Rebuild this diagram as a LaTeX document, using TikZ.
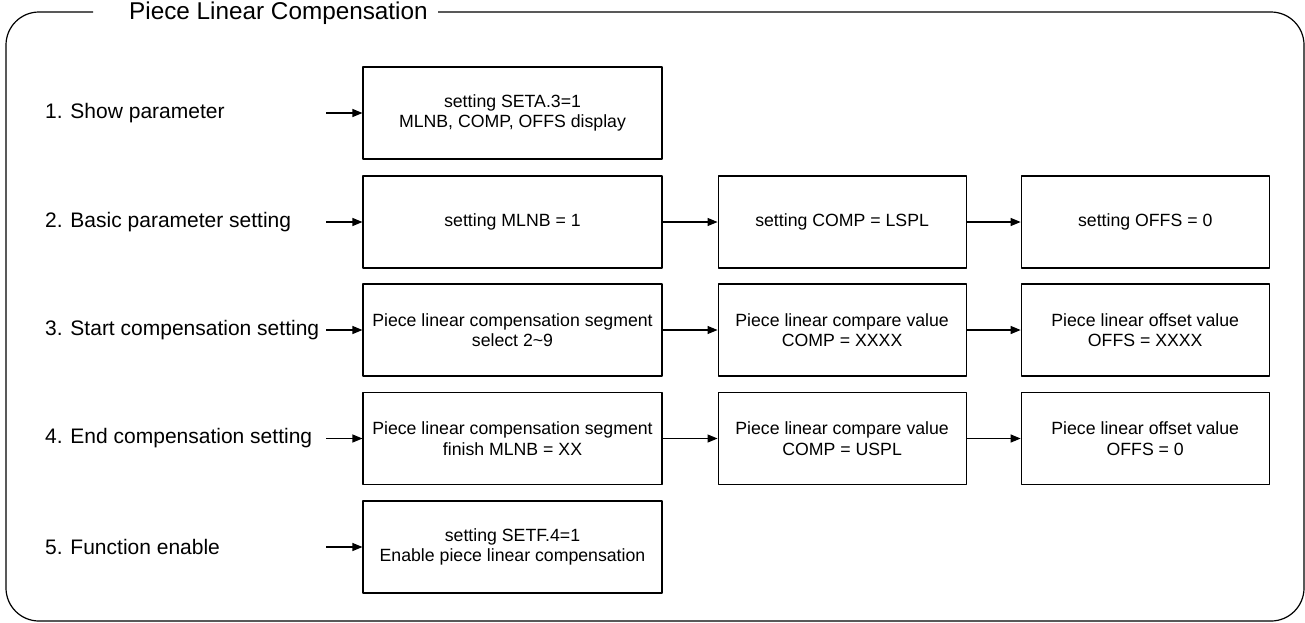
\documentclass[tikz,border=0pt]{standalone}
\usepackage{fontspec}
\setmainfont{Liberation Sans}
\usetikzlibrary{arrows.meta,positioning}

\begin{document}
\begin{tikzpicture}[x=1pt,y=-1pt,>={Triangle[length=10pt,width=8pt]},line join=round,
  stepbox/.style={draw,line width=1.1pt,minimum height=92pt,align=center,
    font=\fontsize{17.7}{20.5}\selectfont,inner sep=0pt},
  widebox/.style={stepbox,minimum width=299pt},
  narrowbox/.style={stepbox,minimum width=248pt},
  rowlabel/.style={anchor=west,font=\fontsize{21}{24}\selectfont,inner sep=0pt},
  link/.style={->,line width=1.1pt}]
\useasboundingbox (0,0) rectangle (1305,622);

%% ---------------- outer frame with the title in its top edge ----------------
\draw[line width=1.2pt,rounded corners=33pt]
  (93,12) -- (6,12) -- (6,621) -- (1304,621) -- (1304,12) -- (438,12);
\node[anchor=west,font=\fontsize{24.3}{28}\selectfont,inner sep=0pt] (title) at (129,13) {Piece Linear Compensation};

%% ---------------- first column ----------------
\node[widebox] (show)   at (512.5,113)   {setting SETA.3=1\\MLNB, COMP, OFFS display};
\node[widebox] (mlnb)   at (512.5,222)   {setting MLNB = 1};
\node[widebox] (seg)    at (512.5,330)   {Piece linear compensation segment\\select 2\textasciitilde 9};
\node[widebox] (finish) at (512.5,438.5) {Piece linear compensation segment\\finish MLNB = XX};
\node[widebox] (enable) at (512.5,547)   {setting SETF.4=1\\Enable piece linear compensation};

%% ---------------- second and third columns ----------------
\node[narrowbox,right=55pt of mlnb]    (comp)  {setting COMP = LSPL};
\node[narrowbox,right=54pt of comp]    (offs)  {setting OFFS = 0};
\node[narrowbox,right=55pt of seg]     (cmpv)  {Piece linear compare value\\COMP = XXXX};
\node[narrowbox,right=54pt of cmpv]    (offv)  {Piece linear offset value\\OFFS = XXXX};
\node[narrowbox,right=55pt of finish]  (cmpe)  {Piece linear compare value\\COMP = USPL};
\node[narrowbox,right=54pt of cmpe]    (offe)  {Piece linear offset value\\OFFS = 0};

%% ---------------- step labels ----------------
\node[rowlabel] (l1) at (45,113)   {1. Show parameter};
\node[rowlabel] (l2) at (45,222)   {2. Basic parameter setting};
\node[rowlabel] (l3) at (45,330)   {3. Start compensation setting};
\node[rowlabel] (l4) at (45,438.5) {4. End compensation setting};
\node[rowlabel] (l5) at (45,547)   {5. Function enable};

%% ---------------- arrows ----------------
\foreach \b in {show,mlnb,seg,finish,enable}{
  \coordinate (in-\b) at ([xshift=-36pt]\b.west);
  \draw[link] (in-\b) -- (\b.west);
}
\draw[link] (mlnb) -- (comp);
\draw[link] (comp) -- (offs);
\draw[link] (seg) -- (cmpv);
\draw[link] (cmpv) -- (offv);
\draw[link] (finish) -- (cmpe);
\draw[link] (cmpe) -- (offe);

\end{tikzpicture}
\end{document}
